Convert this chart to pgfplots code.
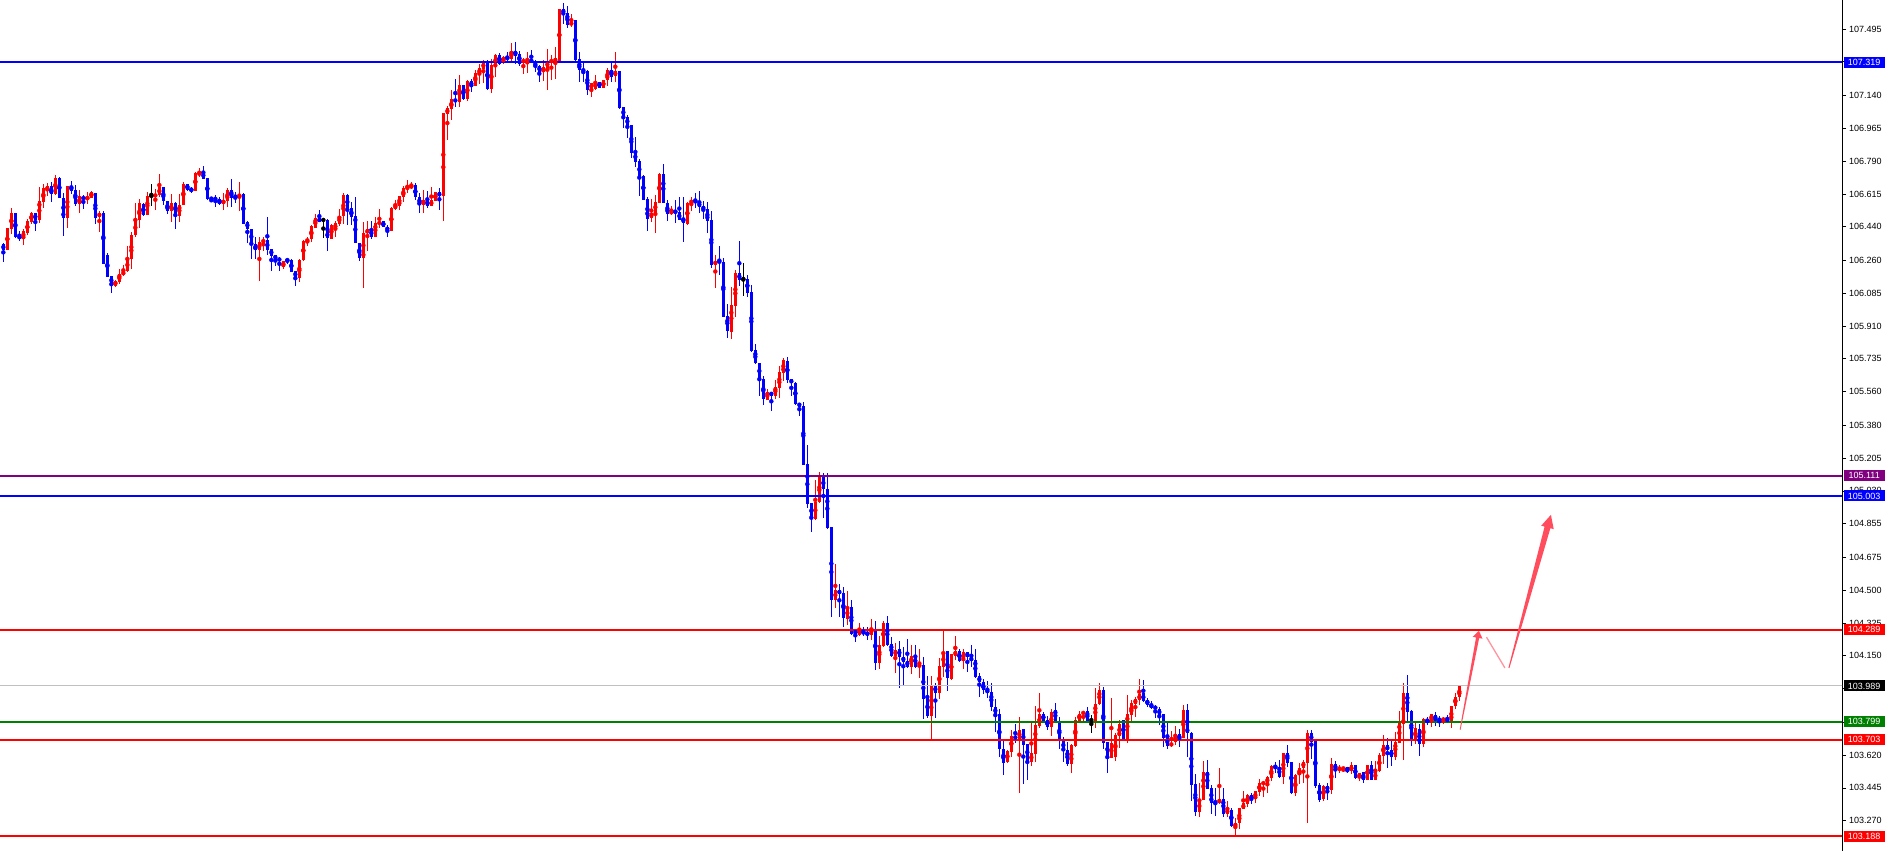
\documentclass[border=0pt]{standalone}
\usepackage{pgfplots}
\pgfplotsset{compat=1.18}
\usepackage{pgfplotstable}
\usepackage{fontspec}
\setmainfont{Liberation Sans}
\usetikzlibrary{calc}
\definecolor{upred}{RGB}{255,0,0}
\definecolor{dnblue}{RGB}{0,0,255}
\definecolor{lvpurple}{RGB}{128,0,128}
\definecolor{lvgreen}{RGB}{0,128,0}
\definecolor{lvgray}{RGB}{192,192,192}
\definecolor{arrowc}{RGB}{255,77,94}

\pgfplotstableread{
o h l c
106.348 106.355 106.254 106.316
106.316 106.437 106.316 106.433
106.430 106.540 106.401 106.513
106.513 106.513 106.378 106.387
106.396 106.419 106.366 106.375
106.375 106.426 106.343 106.419
106.405 106.481 106.396 106.471
106.467 106.521 106.458 106.513
106.513 106.513 106.419 106.476
106.476 106.652 106.462 106.577
106.574 106.668 106.542 106.647
106.636 106.675 106.604 106.657
106.657 106.681 106.574 106.615
106.615 106.716 106.609 106.700
106.700 106.707 106.595 106.595
106.595 106.618 106.392 106.488
106.488 106.657 106.435 106.657
106.657 106.686 106.615 106.633
106.636 106.661 106.551 106.561
106.561 106.636 106.515 106.604
106.601 106.609 106.537 106.586
106.586 106.627 106.560 106.599
106.595 106.633 106.592 106.625
106.622 106.622 106.453 106.488
106.494 106.526 106.414 106.515
106.515 106.526 106.243 106.243
106.289 106.298 106.174 106.174
106.177 106.177 106.088 106.131
106.126 106.156 106.120 106.152
106.147 106.216 106.136 106.188
106.183 106.238 106.177 106.204
106.206 106.337 106.202 106.268
106.266 106.412 106.216 106.396
106.396 106.565 106.387 106.476
106.476 106.590 106.435 106.565
106.561 106.565 106.497 106.503
106.501 106.627 106.501 106.604
106.604 106.668 106.553 106.604
106.601 106.640 106.529 106.615
106.609 106.723 106.601 106.652
106.652 106.652 106.556 106.577
106.577 106.577 106.506 106.524
106.524 106.618 106.467 106.567
106.570 106.574 106.430 106.503
106.499 106.613 106.467 106.556
106.556 106.679 106.556 106.670
106.670 106.670 106.633 106.636
106.643 106.654 106.622 106.631
106.631 106.730 106.631 106.727
106.718 106.752 106.704 106.729
106.732 106.764 106.697 106.697
106.702 106.702 106.583 106.588
106.593 106.593 106.572 106.588
106.595 106.611 106.542 106.583
106.588 106.601 106.556 106.561
106.561 106.618 106.529 106.583
106.581 106.649 106.547 106.636
106.636 106.695 106.545 106.592
106.608 106.627 106.565 106.595
106.595 106.677 106.524 106.617
106.617 106.622 106.455 106.455
106.467 106.472 106.352 106.430
106.430 106.430 106.270 106.346
106.346 106.387 106.268 106.316
106.316 106.387 106.150 106.360
106.355 106.384 106.311 106.371
106.369 106.492 106.287 106.316
106.321 106.321 106.204 106.286
106.289 106.289 106.232 106.268
106.273 106.280 106.206 106.259
106.225 106.259 106.216 106.259
106.270 106.275 106.241 106.257
106.263 106.266 106.200 106.200
106.206 106.206 106.126 106.168
106.168 106.268 106.147 106.264
106.264 106.369 106.257 106.364
106.359 106.384 106.341 106.378
106.375 106.449 106.360 106.444
106.437 106.508 106.433 106.487
106.487 106.529 106.465 106.467
106.476 106.481 106.380 106.476
106.476 106.481 106.312 106.378
106.376 106.458 106.376 106.449
106.423 106.472 106.387 106.462
106.455 106.535 106.444 106.497
106.497 106.624 106.455 106.609
106.609 106.613 106.449 106.535
106.538 106.574 106.449 106.494
106.497 106.597 106.355 106.355
106.355 106.355 106.257 106.271
106.275 106.467 106.115 106.405
106.405 106.469 106.312 106.426
106.426 106.469 106.376 106.387
106.387 106.490 106.387 106.458
106.456 106.533 106.432 106.467
106.469 106.472 106.437 106.440
106.440 106.449 106.387 106.419
106.419 106.544 106.419 106.542
106.538 106.583 106.529 106.556
106.553 106.604 106.529 106.604
106.600 106.657 106.574 106.645
106.641 106.689 106.618 106.654
106.648 106.680 106.641 106.661
106.661 106.672 106.583 106.597
106.597 106.618 106.511 106.561
106.556 106.636 106.511 106.583
106.583 106.631 106.543 106.551
106.552 106.650 106.552 106.581
106.579 106.625 106.577 106.625
106.625 106.645 106.529 106.604
106.604 107.045 106.472 107.045
107.042 107.084 106.903 107.075
107.068 107.170 107.010 107.122
107.122 107.228 107.081 107.107
107.107 107.250 107.081 107.196
107.196 107.196 107.116 107.122
107.122 107.223 107.113 107.218
107.218 107.228 107.161 107.191
107.191 107.276 107.191 107.262
107.255 107.312 107.205 107.285
107.282 107.330 107.209 107.319
107.324 107.330 107.170 107.173
107.175 107.333 107.152 107.303
107.300 107.362 107.241 107.356
107.356 107.369 107.305 107.312
107.321 107.351 107.308 107.344
107.344 107.374 107.312 107.335
107.335 107.422 107.312 107.376
107.378 107.426 107.312 107.351
107.362 107.380 107.300 107.312
107.317 107.339 107.255 107.333
107.328 107.374 107.262 107.335
107.333 107.383 107.312 107.321
107.321 107.330 107.268 107.294
107.300 107.303 107.214 107.268
107.268 107.333 107.219 107.294
107.289 107.387 107.170 107.324
107.319 107.356 107.223 107.330
107.319 107.401 107.228 107.339
107.326 107.602 107.326 107.602
107.602 107.632 107.525 107.579
107.579 107.620 107.502 107.517
107.522 107.579 107.508 107.527
107.543 107.543 107.324 107.333
107.333 107.374 107.214 107.276
107.285 107.316 107.214 107.268
107.273 107.276 107.143 107.173
107.173 107.209 107.134 107.209
107.175 107.248 107.170 107.214
107.214 107.214 107.179 107.182
107.184 107.223 107.184 107.223
107.221 107.285 107.193 107.278
107.276 107.321 107.214 107.241
107.244 107.374 107.214 107.271
107.269 107.269 107.066 107.075
107.077 107.081 106.969 107.024
107.027 107.036 106.912 106.978
106.983 106.983 106.805 106.835
106.841 106.921 106.757 106.787
106.791 106.800 106.604 106.702
106.712 106.716 106.583 106.583
106.588 106.600 106.419 106.481
106.487 106.586 106.467 106.515
106.515 106.609 106.408 106.574
106.568 106.728 106.568 106.725
106.721 106.775 106.565 106.565
106.568 106.583 106.472 106.511
106.508 106.551 106.503 106.526
106.526 106.583 106.458 106.517
106.520 106.600 106.476 106.476
106.485 106.600 106.360 106.462
106.458 106.575 106.451 106.568
106.565 106.597 106.526 106.583
106.583 106.622 106.539 106.569
106.574 106.631 106.512 106.544
106.551 106.578 106.485 106.530
106.535 106.572 106.409 106.473
106.476 106.524 106.218 106.236
106.236 106.290 106.115 106.258
106.258 106.338 106.183 106.249
106.254 106.272 105.960 105.960
105.966 106.028 105.848 105.886
105.880 106.121 105.843 106.023
106.019 106.210 105.960 106.194
106.194 106.366 106.126 106.156
106.162 106.245 106.073 106.162
106.163 106.183 106.067 106.089
106.092 106.130 105.774 105.777
105.783 105.815 105.706 105.711
105.713 105.713 105.539 105.630
105.628 105.644 105.489 105.519
105.519 105.576 105.519 105.558
105.558 105.558 105.459 105.539
105.539 105.622 105.521 105.585
105.582 105.697 105.525 105.667
105.662 105.738 105.619 105.729
105.726 105.747 105.608 105.622
105.626 105.626 105.537 105.605
105.608 105.614 105.489 105.494
105.502 105.502 105.432 105.480
105.484 105.505 105.167 105.167
105.174 105.276 104.941 104.959
104.964 104.964 104.813 104.884
104.884 105.089 104.875 104.973
104.969 105.133 104.964 105.103
105.103 105.124 104.884 105.041
105.041 105.124 104.825 104.831
104.836 104.836 104.359 104.448
104.448 104.640 104.407 104.502
104.502 104.534 104.359 104.480
104.484 104.519 104.306 104.350
104.345 104.498 104.315 104.413
104.411 104.448 104.262 104.267
104.288 104.294 104.226 104.265
104.262 104.324 104.256 104.292
104.283 104.303 104.256 104.267
104.278 104.303 104.235 104.260
104.262 104.347 104.235 104.301
104.292 104.335 104.075 104.110
104.110 104.256 104.082 104.208
104.205 104.335 104.199 104.327
104.324 104.363 104.203 104.208
104.214 104.249 104.146 104.150
104.151 104.217 104.061 104.182
104.187 104.230 103.981 104.146
104.146 104.198 103.991 104.119
104.125 104.239 104.084 104.093
104.093 104.208 104.052 104.150
104.155 104.208 104.084 104.093
104.093 104.187 104.034 104.102
104.102 104.144 103.812 103.918
103.927 104.043 103.820 103.829
103.829 104.043 103.708 103.995
103.995 104.004 103.820 103.949
103.954 104.137 103.922 104.096
104.093 104.292 104.039 104.171
104.174 104.178 103.963 104.030
104.025 104.160 104.021 104.157
104.150 104.258 104.128 104.176
104.176 104.190 104.119 104.123
104.125 104.185 104.080 104.171
104.171 104.171 104.064 104.142
104.142 104.208 104.093 104.123
104.128 104.187 104.030 104.036
104.043 104.061 103.933 104.009
104.009 104.025 103.945 103.968
103.973 104.016 103.924 103.950
103.954 104.004 103.858 103.874
103.877 103.922 103.746 103.838
103.840 103.868 103.612 103.651
103.653 103.701 103.514 103.580
103.585 103.647 103.580 103.642
103.639 103.754 103.612 103.722
103.722 103.788 103.687 103.706
103.706 103.825 103.420 103.754
103.760 103.760 103.466 103.674
103.679 103.679 103.487 103.591
103.585 103.802 103.564 103.630
103.626 103.882 103.585 103.781
103.777 103.952 103.768 103.840
103.843 103.850 103.795 103.804
103.808 103.829 103.754 103.772
103.772 103.868 103.724 103.850
103.861 103.900 103.795 103.799
103.800 103.825 103.655 103.701
103.704 103.719 103.583 103.644
103.647 103.692 103.560 103.575
103.575 103.678 103.523 103.674
103.671 103.825 103.665 103.808
103.804 103.857 103.795 103.843
103.841 103.857 103.793 103.850
103.854 103.879 103.800 103.804
103.808 103.832 103.740 103.808
103.804 103.977 103.765 103.893
103.893 104.003 103.889 103.968
103.968 103.982 103.656 103.688
103.692 103.692 103.526 103.612
103.603 103.927 103.603 103.687
103.612 103.740 103.589 103.728
103.724 103.808 103.660 103.786
103.808 103.808 103.701 103.704
103.708 103.941 103.687 103.840
103.836 103.914 103.800 103.898
103.893 103.929 103.825 103.920
103.914 104.028 103.889 103.945
103.952 104.021 103.905 103.909
103.916 103.927 103.879 103.889
103.893 103.907 103.866 103.872
103.879 103.886 103.820 103.868
103.866 103.875 103.781 103.834
103.838 103.838 103.665 103.710
103.715 103.790 103.651 103.669
103.669 103.749 103.665 103.688
103.688 103.775 103.674 103.733
103.733 103.759 103.665 103.704
103.710 103.887 103.710 103.861
103.861 103.893 103.612 103.736
103.740 103.745 103.377 103.461
103.466 103.519 103.297 103.318
103.318 103.469 103.288 103.380
103.380 103.589 103.380 103.528
103.528 103.594 103.441 103.441
103.446 103.461 103.306 103.366
103.370 103.444 103.297 103.359
103.363 103.553 103.359 103.389
103.389 103.444 103.291 103.309
103.309 103.377 103.288 103.331
103.327 103.341 103.238 103.243
103.238 103.286 103.188 103.258
103.256 103.340 103.226 103.336
103.331 103.428 103.331 103.363
103.359 103.411 103.345 103.407
103.407 103.416 103.357 103.386
103.386 103.428 103.363 103.428
103.425 103.493 103.402 103.469
103.464 103.484 103.398 103.477
103.469 103.510 103.420 103.503
103.498 103.567 103.482 103.564
103.564 103.585 103.526 103.553
103.558 103.594 103.500 103.503
103.505 103.635 103.466 103.630
103.630 103.674 103.558 103.581
103.583 103.583 103.412 103.416
103.416 103.517 103.402 103.514
103.512 103.580 103.469 103.553
103.553 103.594 103.473 103.583
103.576 103.754 103.259 103.736
103.738 103.754 103.600 103.690
103.704 103.704 103.446 103.457
103.461 103.470 103.372 103.384
103.384 103.461 103.377 103.455
103.455 103.473 103.381 103.434
103.434 103.603 103.413 103.573
103.573 103.589 103.500 103.544
103.544 103.567 103.526 103.553
103.546 103.555 103.530 103.555
103.555 103.555 103.523 103.537
103.537 103.582 103.519 103.567
103.567 103.571 103.496 103.500
103.500 103.526 103.484 103.523
103.530 103.530 103.470 103.487
103.487 103.567 103.487 103.567
103.567 103.591 103.487 103.487
103.487 103.589 103.487 103.534
103.535 103.630 103.530 103.621
103.619 103.728 103.573 103.674
103.671 103.711 103.550 103.644
103.651 103.694 103.562 103.612
103.612 103.745 103.594 103.692
103.688 103.856 103.687 103.790
103.784 104.007 103.594 103.950
103.950 104.048 103.802 103.852
103.856 103.861 103.671 103.701
103.701 103.793 103.679 103.763
103.760 103.786 103.617 103.678
103.679 103.816 103.665 103.813
103.811 103.825 103.779 103.799
103.802 103.838 103.772 103.838
103.834 103.848 103.776 103.811
103.815 103.829 103.772 103.804
103.806 103.825 103.784 103.815
103.818 103.834 103.795 103.799
103.799 103.882 103.763 103.882
103.882 103.953 103.868 103.932
103.929 103.992 103.911 103.989
}\candles

\pgfplotsset{
  upc/.style={restrict expr to domain={\thisrow{c}-\thisrow{o}}{0.00001:100}},
  dnc/.style={restrict expr to domain={\thisrow{c}-\thisrow{o}}{-100:-0.00001}},
  djc/.style={restrict expr to domain={\thisrow{c}-\thisrow{o}}{-0.00001:0.00001}},
  wick/.style={color=#1, only marks, mark=none, error bars/.cd, y dir=both, y explicit, error mark=none, error bar style={line width=1pt, color=#1}},
  body/.style={color=#1, only marks, mark=none, error bars/.cd, y dir=both, y explicit, error mark=none, error bar style={line width=3pt, color=#1}},
}

\begin{document}
\begin{tikzpicture}[x=1pt,y=1pt]
\path[use as bounding box] (0,0) rectangle (1888,851);
\fill[white] (0,0) rectangle (1888,851);
\begin{axis}[
  at={(0,0)}, anchor=south west,
  scale only axis, width=1842pt, height=851pt,
  xmin=-0.8333, xmax=459.67, ymin=103.108, ymax=107.650,
  axis x line=none, axis y line*=right,
  xtick=\empty,
  ytick={103.270,103.445,103.620,103.795,103.975,104.150,104.325,104.500,104.675,104.855,105.030,105.205,105.380,105.560,105.735,105.910,106.085,106.260,106.440,106.615,106.790,106.965,107.140,107.320,107.495},
  yticklabels={103.270,103.445,103.620,103.795,103.975,104.150,104.325,104.500,104.675,104.855,105.030,105.205,105.380,105.560,105.735,105.910,106.085,106.260,106.440,106.615,106.790,106.965,107.140,107.320,107.495},
  tick align=outside, major tick length=4pt,
  ytick style={black, line width=0.7pt},
  axis line style={black, line width=1pt},
  yticklabel style={font=\fontsize{9}{10}\selectfont, anchor=west, inner sep=0pt, xshift=3pt, text=black},
]
% wicks
\addplot[upc, wick=upred] table[x expr=\coordindex, y expr={(\thisrow{h}+\thisrow{l})/2}, y error expr={(\thisrow{h}-\thisrow{l})/2}] {\candles};
\addplot[dnc, wick=dnblue] table[x expr=\coordindex, y expr={(\thisrow{h}+\thisrow{l})/2}, y error expr={(\thisrow{h}-\thisrow{l})/2}] {\candles};
\addplot[djc, wick=black] table[x expr=\coordindex, y expr={(\thisrow{h}+\thisrow{l})/2}, y error expr={(\thisrow{h}-\thisrow{l})/2}] {\candles};
% bodies
\addplot[upc, body=upred] table[x expr=\coordindex, y expr={(\thisrow{o}+\thisrow{c})/2}, y error expr={max(abs(\thisrow{c}-\thisrow{o})/2,0.0027)}] {\candles};
\addplot[dnc, body=dnblue] table[x expr=\coordindex, y expr={(\thisrow{o}+\thisrow{c})/2}, y error expr={max(abs(\thisrow{c}-\thisrow{o})/2,0.0027)}] {\candles};
\addplot[djc, body=black] table[x expr=\coordindex, y expr={(\thisrow{o}+\thisrow{c})/2}, y error expr={max(abs(\thisrow{c}-\thisrow{o})/2,0.0027)}] {\candles};
% level lines
\addplot[dnblue, line width=2pt] coordinates {(-2,107.319) (470,107.319)};
\addplot[lvpurple, line width=2pt] coordinates {(-2,105.111) (470,105.111)};
\addplot[dnblue, line width=2pt] coordinates {(-2,105.003) (470,105.003)};
\addplot[upred, line width=2pt] coordinates {(-2,104.289) (470,104.289)};
\addplot[lvgray, line width=1pt] coordinates {(-2,103.989) (470,103.989)};
\addplot[lvgreen, line width=2pt] coordinates {(-2,103.799) (470,103.799)};
\addplot[upred, line width=2pt] coordinates {(-2,103.703) (470,103.703)};
\addplot[upred, line width=2pt] coordinates {(-2,103.188) (470,103.188)};
% label anchors
\coordinate (L1) at (axis cs:459.67,107.319);
\coordinate (L2) at (axis cs:459.67,105.111);
\coordinate (L3) at (axis cs:459.67,105.003);
\coordinate (L4) at (axis cs:459.67,104.289);
\coordinate (L5) at (axis cs:459.67,103.989);
\coordinate (L6) at (axis cs:459.67,103.799);
\coordinate (L7) at (axis cs:459.67,103.703);
\coordinate (L8) at (axis cs:459.67,103.188);
% arrow anchors
\coordinate (A0) at (axis cs:364.2,103.755);
\coordinate (A1) at (axis cs:368.9,104.283);
\coordinate (M0) at (axis cs:370.8,104.249);
\coordinate (M1) at (axis cs:375.4,104.085);
\coordinate (B0) at (axis cs:376.4,104.085);
\coordinate (B1) at (axis cs:386.9,104.902);
\end{axis}
% price labels
\tikzset{lbl/.style={anchor=west, inner sep=0pt, minimum width=41pt, minimum height=11pt, text=white, font=\fontsize{9}{10}\selectfont}}
\node[lbl, fill=dnblue] at ([xshift=1.5pt]L1) {107.319};
\node[lbl, fill=lvpurple] at ([xshift=1.5pt]L2) {105.111};
\node[lbl, fill=dnblue] at ([xshift=1.5pt]L3) {105.003};
\node[lbl, fill=upred] at ([xshift=1.5pt]L4) {104.289};
\node[lbl, fill=black] at ([xshift=1.5pt]L5) {103.989};
\node[lbl, fill=lvgreen] at ([xshift=1.5pt]L6) {103.799};
\node[lbl, fill=upred] at ([xshift=1.5pt]L7) {103.703};
\node[lbl, fill=upred] at ([xshift=1.5pt]L8) {103.188};
% arrows
\coordinate (AH) at ($(A1)!7pt!(A0)$);
\fill[arrowc] ($(A0)!0.4pt!90:(A1)$) -- ($(AH)!1.6pt!90:(A1)$) -- ($(AH)!5pt!90:(A1)$) -- (A1) -- ($(AH)!5pt!-90:(A1)$) -- ($(AH)!1.6pt!-90:(A1)$) -- ($(A0)!0.4pt!-90:(A1)$) -- cycle;
\draw[arrowc, line width=1.3pt, opacity=0.6] (M0) -- (M1);
\coordinate (BH) at ($(B1)!13pt!(B0)$);
\fill[arrowc] ($(B0)!0.5pt!90:(B1)$) -- ($(BH)!3pt!90:(B1)$) -- ($(BH)!6.5pt!90:(B1)$) -- (B1) -- ($(BH)!6.5pt!-90:(B1)$) -- ($(BH)!3pt!-90:(B1)$) -- ($(B0)!0.5pt!-90:(B1)$) -- cycle;
\end{tikzpicture}
\end{document}
